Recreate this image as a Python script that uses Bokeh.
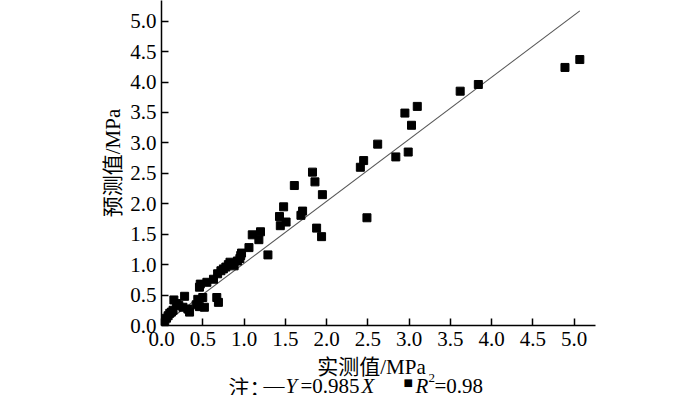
from bokeh.plotting import figure
from bokeh.models import Range1d, Label, FixedTicker
from bokeh.layouts import column
from bokeh.embed import file_html
from bokeh.resources import INLINE

# measured (x) vs predicted (y) strength, MPa
actual_x = [0.02, 0.04, 0.06, 0.08, 0.10, 0.12, 0.14, 0.15, 0.18, 0.21,
            0.26, 0.28, 0.32, 0.34, 0.42, 0.44, 0.46, 0.46, 0.47, 0.50,
            0.52, 0.55, 0.63, 0.67, 0.69, 0.68, 0.72, 0.75, 0.78, 0.81,
            0.83, 0.88, 0.92, 0.95, 0.96, 0.97, 1.06, 1.10, 1.18, 1.20,
            1.29, 1.43, 1.44, 1.48, 1.51, 1.61, 1.69, 1.71, 1.83, 1.86,
            1.88, 1.94, 1.95, 2.41, 2.45, 2.49, 2.62, 2.84, 2.95, 2.99,
            3.03, 3.10, 3.62, 3.84, 4.89, 5.07]
predicted_y = [0.03, 0.08, 0.12, 0.16, 0.20, 0.22, 0.25, 0.42, 0.36, 0.33,
               0.30, 0.48, 0.27, 0.22, 0.34, 0.43, 0.31, 0.63, 0.68, 0.46,
               0.30, 0.71, 0.76, 0.46, 0.38, 0.85, 0.90, 0.93, 0.96, 1.00,
               1.04, 0.98, 1.06, 1.10, 1.15, 1.19, 1.28, 1.49, 1.41, 1.54,
               1.16, 1.79, 1.64, 1.95, 1.70, 2.30, 1.81, 1.88, 2.52, 2.36,
               1.60, 1.46, 2.15, 2.60, 2.71, 1.77, 2.98, 2.77, 3.49, 2.85,
               3.29, 3.60, 3.85, 3.96, 4.24, 4.37]
fit_x = [0.0, 5.07]
fit_y = [0.0, 5.17]
tick_values = [0.0, 0.5, 1.0, 1.5, 2.0, 2.5, 3.0, 3.5, 4.0, 4.5, 5.0]
tick_labels = {v: f"{v:.1f}" for v in tick_values}
x_title = "实测值/MPa"
y_title = "预测值/MPa"

SERIF = "'Liberation Serif', 'Noto Sans CJK SC'"
CJK = "'Noto Sans CJK SC'"
FS = "21px"

p = figure(width=700, height=353, output_backend="svg", toolbar_location=None,
           title_location=None,
           x_range=Range1d(0, 5.26), y_range=Range1d(0, 5.34),
           min_border_left=161, min_border_right=105, min_border_top=0,
           min_border_bottom=28)
p.outline_line_color = None
p.grid.visible = False

p.line(fit_x, fit_y, line_color="#555555", line_width=1.1)
p.scatter(actual_x, predicted_y, marker="square", size=8, fill_color="black",
          line_color="black")

for ax in (p.xaxis[0], p.yaxis[0]):
    ax.ticker = FixedTicker(ticks=tick_values)
    ax.major_label_overrides = tick_labels
    ax.major_tick_in = 7
    ax.major_tick_out = 0
    ax.minor_tick_line_color = None
    ax.axis_line_width = 1.5
    ax.major_tick_line_width = 1.5
    ax.axis_line_color = "black"
    ax.major_tick_line_color = "black"
    ax.major_label_text_font = SERIF
    ax.major_label_text_font_size = FS
    ax.major_label_text_color = "black"
    ax.axis_label_text_font = SERIF
    ax.axis_label_text_font_size = FS
    ax.axis_label_text_font_style = "normal"
    ax.axis_label_text_color = "black"

p.yaxis[0].axis_label = y_title
p.xaxis[0].major_label_standoff = 6
p.yaxis[0].major_label_standoff = 5
p.yaxis[0].axis_label_standoff = 2

# strip under the chart: x-axis title and the fit note (frame aligned with the plot's)
NH = 60
note = figure(width=700, height=NH, output_backend="svg", toolbar_location=None,
              title_location=None, margin=(-6, 0, 0, 0),
              x_range=Range1d(161, 595), y_range=Range1d(NH, 0), min_border=0)
note.axis.visible = False
note.grid.visible = False
note.outline_line_color = None

def add_text(txt, sx, sy, font=SERIF, size=FS, style="normal", align="left"):
    note.add_layout(Label(x=sx, y=sy, text=txt, text_font=font,
                          text_font_size=size, text_font_style=style,
                          text_color="black", text_baseline="alphabetic",
                          text_align=align))

add_text(x_title, 371, 19, align="center")

base_y = 38
add_text("注：", 228, base_y, font=CJK)
add_text("—", 263, base_y)
add_text("Y", 285, base_y, style="italic")
add_text("=0.985", 300, base_y)
add_text("X", 361, base_y, style="italic")
add_text("■", 403, base_y - 3, font="'DejaVu Sans'", size="10px")
add_text("R", 415, base_y, style="italic")
add_text("2", 428, base_y - 8, size="13px")
add_text("=0.98", 434, base_y)

layout = column(p, note, spacing=0)
open("out.html", "w").write(file_html(layout, INLINE))
